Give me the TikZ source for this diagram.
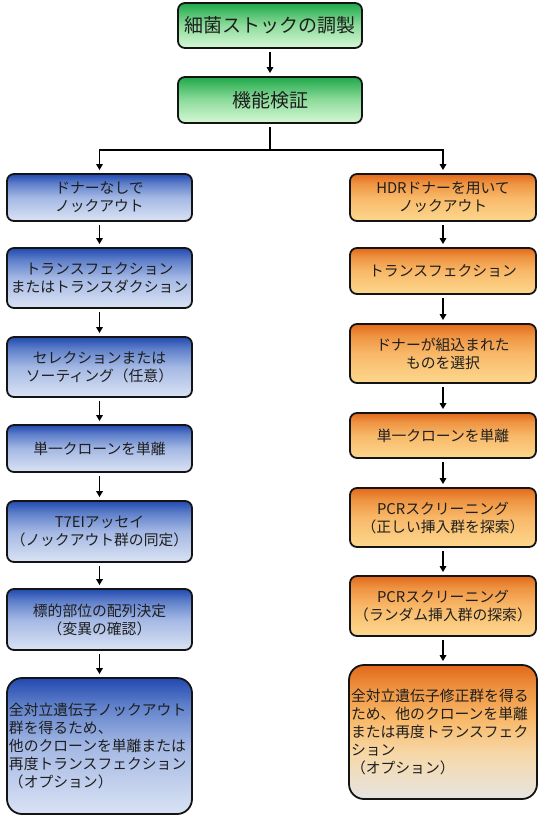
\documentclass[tikz,border=0pt]{standalone}
\usepackage{fontspec}
\setmainfont{Noto Sans CJK JP}
\usetikzlibrary{arrows.meta}
\definecolor{gtop}{HTML}{1FA84A}
\definecolor{gmid}{HTML}{8EDC9C}
\definecolor{gbot}{HTML}{D6F8D6}
\definecolor{btop}{HTML}{2249B0}
\definecolor{bup}{HTML}{5F80CA}
\definecolor{bmid}{HTML}{A4B8E4}
\definecolor{bbot}{HTML}{DAE3F4}
\definecolor{otop}{HTML}{E2691A}
\definecolor{oup}{HTML}{EE9442}
\definecolor{omid}{HTML}{F8B868}
\definecolor{obot}{HTML}{FDD88E}
\definecolor{obotB}{HTML}{E6E4E2}
\definecolor{olow}{HTML}{F6D8A8}
\definecolor{txt}{HTML}{1E1E1E}
\pgfdeclareverticalshading{gshade}{100bp}{color(0bp)=(gbot); color(25bp)=(gbot); color(50bp)=(gmid); color(75bp)=(gtop); color(100bp)=(gtop)}
\pgfdeclareverticalshading{bshade}{100bp}{color(0bp)=(bbot); color(25bp)=(bbot); color(50bp)=(bmid); color(65bp)=(bup); color(75bp)=(btop); color(100bp)=(btop)}
\pgfdeclareverticalshading{oshade}{100bp}{color(0bp)=(obot); color(25bp)=(obot); color(50bp)=(omid); color(65bp)=(oup); color(75bp)=(otop); color(100bp)=(otop)}
\pgfdeclareverticalshading{oshadeB}{100bp}{color(0bp)=(obotB); color(25bp)=(obotB); color(42bp)=(olow); color(55bp)=(omid); color(66bp)=(oup); color(75bp)=(otop); color(100bp)=(otop)}
\newcommand\mybfont{\fontsize{14.8pt}{18pt}\selectfont}
\newcommand\mytfont{\fontsize{19pt}{22pt}\selectfont}
\tikzset{
  box/.style={rounded corners=7pt, draw=black!92, line width=1.8pt, align=center, inner sep=2pt, font=\mybfont, text=txt},
  gbox/.style={box, shade, shading=gshade, minimum width=184pt, font=\mytfont},
  lbox/.style={box, shade, shading=bshade, minimum width=185pt},
  rbox/.style={box, shade, shading=oshade, minimum width=186pt},
  arr/.style={draw=black, line width=1.8pt, -{Triangle[length=6pt,width=6.5pt]}, shorten <=3pt, shorten >=3pt},
  plain/.style={draw=black, line width=1.8pt}
}
\begin{document}
\begin{tikzpicture}[x=1pt,y=-1pt]
\useasboundingbox (0,0) rectangle (544,816);
\fill[white] (0,0) rectangle (544,816);
\node[gbox, minimum height=45pt] (g1) at (270,25.5) {細菌ストックの調製};
\node[gbox, minimum height=46pt] (g2) at (270,100) {機能検証};
% left column
\node[lbox, minimum height=47pt] (l1) at (99.5,197.5) {ドナーなしで\\ノックアウト};
\node[lbox, minimum height=60pt] (l2) at (99.5,278) {トランスフェクション\\またはトランスダクション};
\node[lbox, minimum height=60pt] (l3) at (99.5,367) {セレクションまたは\\ソーティング（任意）};
\node[lbox, minimum height=47pt] (l4) at (99.5,448.5) {単一クローンを単離};
\node[lbox, minimum height=61pt] (l5) at (99.5,531.5) {T7EIアッセイ\\（ノックアウト群の同定）};
\node[lbox, minimum height=61pt] (l6) at (99.5,619.5) {標的部位の配列決定\\（変異の確認）};
\node[lbox, minimum height=136pt, rounded corners=15pt, align=left, text width=181pt] (l7) at (99.5,746) {全対立遺伝子ノックアウト\\群を得るため、\\他のクローンを単離または\\再度トランスフェクション\\（オプション）};
% right column
\node[rbox, minimum height=47pt] (r1) at (443,197.5) {HDRドナーを用いて\\ノックアウト};
\node[rbox, minimum height=46pt] (r2) at (443,271) {トランスフェクション};
\node[rbox, minimum height=59pt] (r3) at (443,353.5) {ドナーが組込まれた\\ものを選択};
\node[rbox, minimum height=45pt] (r4) at (443,435.5) {単一クローンを単離};
\node[rbox, minimum height=59pt] (r5) at (443,517.5) {PCRスクリーニング\\（正しい挿入群を探索）};
\node[rbox, minimum height=60pt] (r6) at (443,606) {PCRスクリーニング\\（ランダム挿入群の探索）};
\node[rbox, shading=oshadeB, minimum height=134pt, rounded corners=15pt, align=left, text width=184pt] (r7) at (443,732) {全対立遺伝子修正群を得る\\ため、他のクローンを単離\\または再度トランスフェク\\ション\\（オプション）};
% connectors
\draw[arr] (g1.south) -- (g2.north);
\coordinate (jn) at (270,150);
\draw[plain, shorten <=3pt] (g2.south) -- (jn);
\draw[arr, shorten <=0pt] (jn) -| (l1.north);
\draw[arr, shorten <=0pt] (jn) -| (r1.north);
\foreach \a/\b in {l1/l2,l2/l3,l3/l4,l4/l5,l5/l6,l6/l7,r1/r2,r2/r3,r3/r4,r4/r5,r5/r6,r6/r7}
  \draw[arr] (\a.south) -- (\b.north);
\end{tikzpicture}
\end{document}
